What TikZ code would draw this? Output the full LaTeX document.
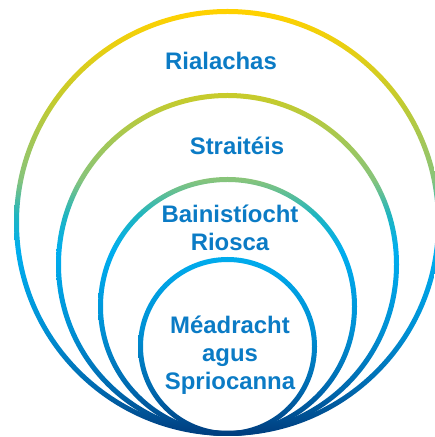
\documentclass[tikz,border=0pt]{standalone}
\usepackage{fontspec}
\setmainfont{Liberation Sans}
\definecolor{lbltext}{HTML}{0B7BC5}
\definecolor{ringnavy}{HTML}{003F80}
\definecolor{ringdeep}{HTML}{0068AE}
\definecolor{ringblue}{HTML}{0090D4}
\definecolor{ringcyan}{HTML}{00AEEF}
\definecolor{ringteal}{HTML}{1FB5C0}
\definecolor{ringgreen}{HTML}{86C47C}
\definecolor{ringlime}{HTML}{C4CB2E}
\definecolor{ringgold}{HTML}{FFD100}
\pgfdeclareverticalshading{ringshade}{100bp}{color(0bp)=(ringnavy); color(25.5bp)=(ringnavy);
 color(30.4bp)=(ringdeep); color(37.2bp)=(ringblue); color(46.4bp)=(ringcyan);
 color(50.4bp)=(ringteal); color(54.4bp)=(ringgreen); color(63.6bp)=(ringlime);
 color(73.6bp)=(ringgold); color(100bp)=(ringgold)}
\begin{document}
\begin{tikzpicture}[x=1bp,y=1bp,
 lbl/.style={text=lbltext,font=\bfseries\fontsize{24}{28.5}\selectfont,
             align=center,inner sep=0pt,anchor=base}]
 \useasboundingbox (0,0) rectangle (435,437);
 % rings, all touching at the bottom
 \foreach \r in {211,169,127,87}{
  \begin{scope}[even odd rule]
   \clip (227.5,{3.5+\r}) circle[radius=\r+2.5]
         (227.5,{3.5+\r}) circle[radius=\r-2.5];
   \shade[shading=ringshade] (0,0) rectangle (435,437);
  \end{scope}
 }
 % base of a multi-line label = baseline of its last line
 \node[lbl] (rial) at (221,367) {Rialachas};
 \node[lbl] (strat) at (237,282) {Straitéis};
 \node[lbl] (riosca) at (230,186) {Bainistíocht\\Riosca};
 \node[lbl] (meadr) at (230,47) {Méadracht\\agus\\Spriocanna};
\end{tikzpicture}
\end{document}
